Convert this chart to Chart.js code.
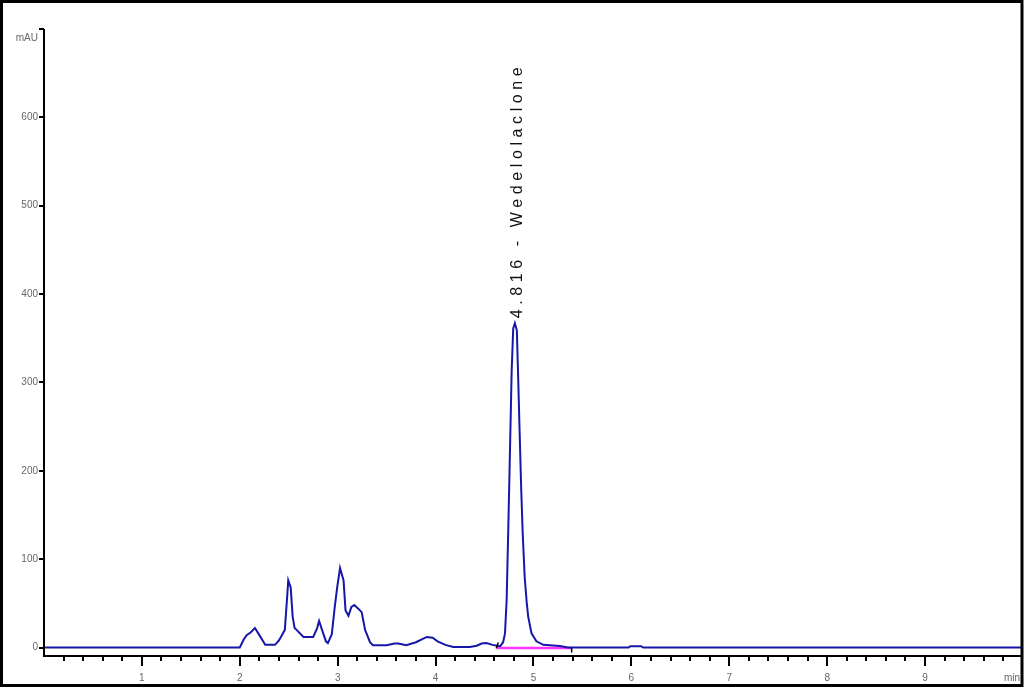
<!DOCTYPE html>
<html>
<head>
<meta charset="utf-8">
<script src="https://cdn.jsdelivr.net/npm/chart.js@4/dist/chart.umd.min.js"></script>
<style>
  body { margin: 0; background: #fff; }
  canvas { display: block; }
</style>
</head>
<body>
<canvas id="chrom" width="1024" height="689"></canvas>
<script>
// retention time (min) and detector signal (mAU)
const timeMin = [0, 2.0, 2.04, 2.07, 2.11, 2.155, 2.20, 2.26, 2.36, 2.40, 2.43, 2.46, 2.486, 2.495, 2.52, 2.54, 2.56, 2.58, 2.65, 2.75, 2.79, 2.81, 2.84, 2.88, 2.90, 2.94, 2.97, 2.996, 3.024, 3.06, 3.08, 3.11, 3.14, 3.17, 3.21, 3.245, 3.28, 3.33, 3.36, 3.5, 3.58, 3.62, 3.70, 3.80, 3.91, 3.97, 4.02, 4.1, 4.18, 4.35, 4.42, 4.47, 4.52, 4.58, 4.63, 4.66, 4.69, 4.709, 4.726, 4.743, 4.76, 4.777, 4.793, 4.81, 4.83, 4.845, 4.858, 4.875, 4.89, 4.91, 4.93, 4.946, 4.98, 5.03, 5.10, 5.27, 5.35, 5.97, 5.99, 6.10, 6.12, 9.98];
const signalMAU = [0, 0, 9, 14, 17, 22, 14, 3, 3, 8, 14, 20, 61, 76, 68, 35, 22, 20, 12, 12, 22, 30, 20, 7, 5, 15, 46, 69, 90, 76, 42, 36, 46, 48, 44, 40, 20, 6, 2.5, 2.5, 4.5, 4.5, 2.5, 6, 12, 11, 7, 3, 0.5, 0.5, 2, 4.5, 5, 3, 2, 1.5, 6, 16, 54, 136, 223, 312, 361, 367, 359, 300, 246, 178, 129, 80, 52, 35, 16, 7, 3, 1.7, 0, 0, 1.5, 1.5, 0, 0];

// integration baseline of the main peak
const baselineTime = [4.63, 5.39];
const baselineMAU = [-0.6, -0.6];

const xTickLabels = [1, 2, 3, 4, 5, 6, 7, 8, 9];
const yTickLabels = [0, 100, 200, 300, 400, 500, 600];
const yTickMarks = [0, 100, 200, 300, 400, 500, 600, 700];

const peakTime = 4.816;
const peakHeight = 367;
const peakName = 'Wedelolaclone';

const traceData = timeMin.map((t, i) => ({ x: t, y: signalMAU[i] }));
const baseData = baselineTime.map((t, i) => ({ x: t, y: baselineMAU[i] }));

const chromDecor = {
    id: 'chromDecor',
    afterDraw(chart) {
        const ctx = chart.ctx;
        const xs = chart.scales.x, ys = chart.scales.y;
        const a = chart.chartArea;
        ctx.save();
        ctx.strokeStyle = '#000';

        // axes
        ctx.lineWidth = 2;
        ctx.beginPath();
        ctx.moveTo(a.left, a.top);
        ctx.lineTo(a.left, a.bottom);
        ctx.lineTo(a.right, a.bottom);
        ctx.stroke();

        // x tick marks, minor every 0.2 min
        for (let k = 1; k * 0.2 <= xs.max; k++) {
            const px = Math.round(xs.getPixelForValue(k * 0.2));
            const len = (k % 5 === 0) ? 10 : 5;
            ctx.beginPath();
            ctx.moveTo(px, a.bottom);
            ctx.lineTo(px, a.bottom + len);
            ctx.stroke();
        }
        // y tick marks
        yTickMarks.forEach(v => {
            const py = Math.round(ys.getPixelForValue(v));
            ctx.beginPath();
            ctx.moveTo(a.left, py);
            ctx.lineTo(a.left - 5, py);
            ctx.stroke();
        });

        // unit labels
        ctx.fillStyle = '#666';
        ctx.font = '10px Arial';
        ctx.textBaseline = 'middle';
        ctx.textAlign = 'right';
        ctx.fillText('mAU', 38, 38);
        ctx.textAlign = 'center';
        ctx.fillText('min', 1012, 678);

        // integration baseline end marks
        ctx.lineWidth = 1.5;
        const b0 = xs.getPixelForValue(baselineTime[0]);
        const b1 = xs.getPixelForValue(baselineTime[1]);
        const by = ys.getPixelForValue(0);
        ctx.beginPath();
        ctx.moveTo(b0 - 1, by + 1);
        ctx.lineTo(b0 + 1, by - 5);
        ctx.moveTo(b1, by);
        ctx.lineTo(b1, by + 5);
        ctx.stroke();

        // peak label, rotated, just above the apex
        const pk = xs.getPixelForValue(peakTime);
        const top = ys.getPixelForValue(peakHeight) - 5;
        ctx.translate(pk + 2, top);
        ctx.rotate(-Math.PI / 2);
        ctx.fillStyle = '#111';
        ctx.font = '16px Arial';
        ctx.letterSpacing = '4.6px';
        ctx.textAlign = 'left';
        ctx.textBaseline = 'middle';
        ctx.fillText(peakTime.toFixed(3) + ' - ' + peakName, 0, 0);
        ctx.restore();

        // outer frame
        ctx.save();
        ctx.strokeStyle = '#000';
        ctx.lineWidth = 3;
        ctx.strokeRect(1.5, 1.5, 1020.5, 684);
        ctx.restore();
    }
};

new Chart(document.getElementById('chrom'), {
    type: 'line',
    data: {
        datasets: [
            { data: traceData, borderColor: '#1616aa', borderWidth: 2, pointRadius: 0, tension: 0, fill: false },
            { data: baseData, borderColor: '#ff33ff', borderWidth: 2.5, pointRadius: 0, fill: false }
        ]
    },
    options: {
        responsive: false,
        animation: false,
        layout: { padding: { top: 29, right: 3, left: 0, bottom: 0 } },
        plugins: { legend: { display: false }, tooltip: { enabled: false } },
        scales: {
            x: {
                type: 'linear',
                min: 0,
                max: 9.98,
                grid: { display: false, tickLength: 6 },
                border: { display: false },
                afterBuildTicks: s => { s.ticks = xTickLabels.map(v => ({ value: v })); },
                afterFit: s => { s.height = 33; },
                ticks: { autoSkip: false, maxRotation: 0, padding: 10, color: '#666', font: { family: 'Arial', size: 10 } }
            },
            y: {
                min: -9.6,
                max: 700,
                grid: { display: false, tickLength: 6 },
                border: { display: false },
                afterBuildTicks: s => { s.ticks = yTickLabels.map(v => ({ value: v })); },
                afterFit: s => { s.width = 44; },
                ticks: { autoSkip: false, padding: 0, color: '#666', font: { family: 'Arial', size: 10 } }
            }
        }
    },
    plugins: [chromDecor]
});
</script>
</body>
</html>
